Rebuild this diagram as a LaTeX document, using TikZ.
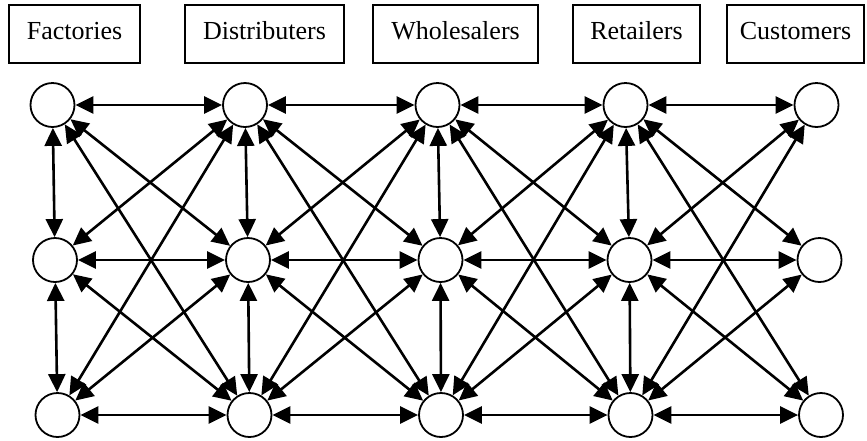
\documentclass[tikz,border=0pt]{standalone}
\usepackage{fontspec}
\setmainfont{Liberation Serif}
\usetikzlibrary{arrows.meta}
\begin{document}
\begin{tikzpicture}[x=1pt,y=-1pt,
  stagebox/.style={draw,line width=1.8pt,minimum height=58pt,inner sep=0pt,
    text height=18pt,text depth=7pt,font=\fontsize{26}{30}\selectfont},
  site/.style={draw,circle,line width=1.8pt,minimum size=44pt,inner sep=0pt},
  link/.style={line width=2.6pt,
    {Triangle[length=18pt,width=17pt]}-{Triangle[length=18pt,width=17pt]}}]
  \useasboundingbox (0,0) rectangle (867,440);

  % stage headings
  \node[stagebox,minimum width=131pt] (hF) at (74.5,34)  {Factories};
  \node[stagebox,minimum width=159pt] (hD) at (264.5,34) {Distributers};
  \node[stagebox,minimum width=165pt] (hW) at (455.5,34) {Wholesalers};
  \node[stagebox,minimum width=127pt] (hR) at (636.5,34) {Retailers};
  \node[stagebox,minimum width=137pt] (hC) at (795.5,34) {Customers};

  % sites: n-column-row
  \node[site] (n-1-1) at (52.5,105) {};
  \node[site] (n-1-2) at (55,260) {};
  \node[site] (n-1-3) at (57.5,415) {};
  \node[site] (n-2-1) at (245,105) {};
  \node[site] (n-2-2) at (248,260) {};
  \node[site] (n-2-3) at (249.5,415) {};
  \node[site] (n-3-1) at (437.5,105) {};
  \node[site] (n-3-2) at (440.5,260) {};
  \node[site] (n-3-3) at (441,415) {};
  \node[site] (n-4-1) at (625.5,105) {};
  \node[site] (n-4-2) at (629.5,260) {};
  \node[site] (n-4-3) at (630.5,415) {};
  \node[site] (n-5-1) at (816.5,105) {};
  \node[site] (n-5-2) at (819.5,260) {};
  \node[site] (n-5-3) at (821,415) {};

  % links within a stage
  \foreach \c in {1,2,3,4} {
    \draw[link] (n-\c-1) -- (n-\c-2);
    \draw[link] (n-\c-2) -- (n-\c-3);
  }
  % links between neighbouring stages
  \foreach \c [evaluate=\c as \d using int(\c+1)] in {1,2,3,4} {
    \foreach \i in {1,2,3} {
      \foreach \j in {1,2,3} {
        \draw[link] (n-\c-\i) -- (n-\d-\j);
      }
    }
  }
\end{tikzpicture}
\end{document}
